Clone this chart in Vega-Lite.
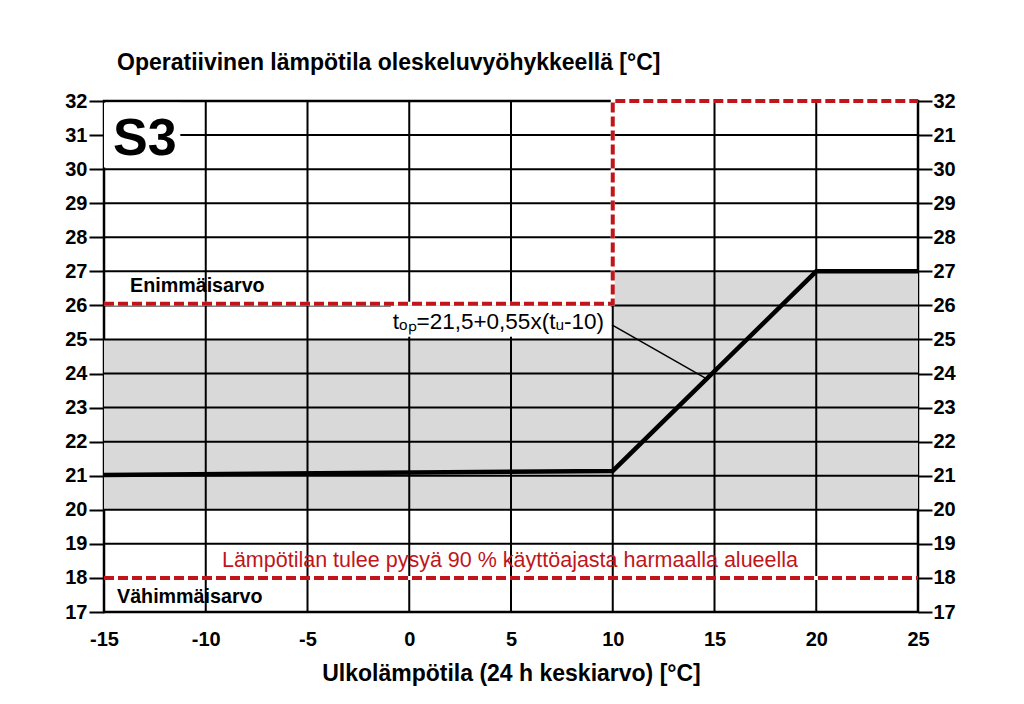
{
  "$schema": "https://vega.github.io/schema/vega-lite/v6.json",
  "width": 814,
  "height": 511,
  "autosize": "none",
  "padding": {"left": 104, "top": 101, "right": 106, "bottom": 92},
  "background": "white",
  "config": {
    "view": {"stroke": "black", "strokeWidth": 2.5},
    "font": "Liberation Sans"
  },
  "title": {
    "text": "Operatiivinen lämpötila oleskeluvyöhykkeellä [°C]",
    "anchor": "start",
    "frame": "group",
    "dx": 13,
    "offset": -2,
    "baseline": "alphabetic",
    "font": "Liberation Sans",
    "fontSize": 23,
    "fontWeight": "bold",
    "color": "black"
  },
  "datasets": {
    "grey": [
      {"x": -15, "x2": 10, "y": 20, "y2": 25},
      {"x": 10, "x2": 25, "y": 20, "y2": 27}
    ],
    "vgrid": [{"x": -10}, {"x": -5}, {"x": 0}, {"x": 5}, {"x": 10}, {"x": 15}, {"x": 20}],
    "hgrid": [{"y": 18}, {"y": 19}, {"y": 20}, {"y": 21}, {"y": 22}, {"y": 23}, {"y": 24}, {"y": 25}, {"y": 26}, {"y": 27}, {"y": 28}, {"y": 29}, {"y": 30}, {"y": 31}],
    "boxes": [
      {"x": -15, "x2": -11.25, "y": 30.05, "y2": 31.95},
      {"x": -0.9, "x2": 9.9, "y": 25.08, "y2": 26.0}
    ],
    "limits": [
      {"g": "max", "o": 1, "x": -15, "y": 26.05},
      {"g": "max", "o": 2, "x": 10, "y": 26.05},
      {"g": "max", "o": 3, "x": 10, "y": 32},
      {"g": "max", "o": 4, "x": 25, "y": 32},
      {"g": "min", "o": 1, "x": -15, "y": 18},
      {"g": "min", "o": 2, "x": 25, "y": 18}
    ],
    "main": [
      {"o": 1, "x": -15, "y": 21.02},
      {"o": 2, "x": 10, "y": 21.14},
      {"o": 3, "x": 20, "y": 27.0},
      {"o": 4, "x": 25, "y": 27.0}
    ],
    "leader": [{"x": 9.96, "y": 25.43, "x2": 14.53, "y2": 23.87}]
  },
  "resolve": {"axis": {"x": "independent", "y": "independent"}},
  "layer": [
    {
      "data": {"name": "grey"},
      "mark": {"type": "rect", "fill": "#d9d9d9"},
      "encoding": {
        "x": {"field": "x", "type": "quantitative",
          "scale": {"domain": [-15, 25], "nice": false, "zero": false},
          "axis": {"orient": "bottom", "values": [-15, -10, -5, 0, 5, 10, 15, 20, 25], "ticks": false, "domain": false, "grid": false,
            "labelExpr": "datum.value + ''", "labelFlush": false, "labelOverlap": false,
            "labelFont": "Liberation Sans", "labelFontSize": 20, "labelFontWeight": "bold", "labelColor": "black", "labelPadding": 17,
            "title": "Ulkolämpötila (24 h keskiarvo) [°C]", "titleFont": "Liberation Sans", "titleFontSize": 23, "titleFontWeight": "bold", "titleColor": "black", "titlePadding": 13}},
        "x2": {"field": "x2"},
        "y": {"field": "y", "type": "quantitative",
          "scale": {"domain": [17, 32], "nice": false, "zero": false},
          "axis": {"orient": "left", "values": [17, 18, 19, 20, 21, 22, 23, 24, 25, 26, 27, 28, 29, 30, 31, 32], "ticks": true, "tickSize": 15, "tickWidth": 2, "tickColor": "black", "domain": false, "grid": false,
            "labelFlush": false, "labelOverlap": false,
            "labelFont": "Liberation Sans", "labelFontSize": 20, "labelFontWeight": "bold", "labelColor": "black", "labelPadding": 2, "title": null}},
        "y2": {"field": "y2"}
      }
    },
    {
      "data": {"name": "vgrid"},
      "mark": {"type": "rule", "color": "black", "strokeWidth": 2},
      "encoding": {
        "x": {"field": "x", "type": "quantitative", "axis": null}
      }
    },
    {
      "data": {"name": "hgrid"},
      "mark": {"type": "rule", "color": "black", "strokeWidth": 2},
      "encoding": {
        "y": {"field": "y", "type": "quantitative",
          "axis": {"orient": "right", "values": [17, 18, 19, 20, 21, 22, 23, 24, 25, 26, 27, 28, 29, 30, 31, 32], "ticks": true, "tickSize": 14, "tickWidth": 2, "tickColor": "black", "domain": false, "grid": false,
            "labelExpr": "datum.value == 31 ? '21' : datum.label", "labelFlush": false, "labelOverlap": false,
            "labelFont": "Liberation Sans", "labelFontSize": 20, "labelFontWeight": "bold", "labelColor": "black", "labelPadding": 1, "title": null}}
      }
    },
    {
      "data": {"name": "boxes"},
      "mark": {"type": "rect", "fill": "white"},
      "encoding": {
        "x": {"field": "x", "type": "quantitative", "axis": null},
        "x2": {"field": "x2"},
        "y": {"field": "y", "type": "quantitative", "axis": null},
        "y2": {"field": "y2"}
      }
    },
    {
      "data": {"name": "limits"},
      "mark": {"type": "line", "color": "white", "strokeWidth": 4, "strokeCap": "butt"},
      "encoding": {
        "x": {"field": "x", "type": "quantitative", "axis": null},
        "y": {"field": "y", "type": "quantitative", "axis": null},
        "detail": {"field": "g"},
        "order": {"field": "o"}
      }
    },
    {
      "data": {"name": "limits"},
      "mark": {"type": "line", "color": "#c0161b", "strokeWidth": 4, "strokeDash": [10, 4], "strokeCap": "butt"},
      "encoding": {
        "x": {"field": "x", "type": "quantitative", "axis": null},
        "y": {"field": "y", "type": "quantitative", "axis": null},
        "detail": {"field": "g"},
        "order": {"field": "o"}
      }
    },
    {
      "data": {"name": "main"},
      "mark": {"type": "line", "color": "black", "strokeWidth": 4.5},
      "encoding": {
        "x": {"field": "x", "type": "quantitative", "axis": null},
        "y": {"field": "y", "type": "quantitative", "axis": null},
        "order": {"field": "o"}
      }
    },
    {
      "data": {"name": "leader"},
      "mark": {"type": "rule", "color": "black", "strokeWidth": 1.5},
      "encoding": {
        "x": {"field": "x", "type": "quantitative", "axis": null},
        "y": {"field": "y", "type": "quantitative", "axis": null},
        "x2": {"field": "x2"},
        "y2": {"field": "y2"}
      }
    },
    {
      "data": {"values": [{"x": -14.56, "y": 30.415, "t": "S3"}]},
      "mark": {"type": "text", "align": "left", "baseline": "alphabetic", "font": "Liberation Sans", "fontSize": 52, "fontWeight": "bold", "color": "black"},
      "encoding": {
        "x": {"field": "x", "type": "quantitative", "axis": null},
        "y": {"field": "y", "type": "quantitative", "axis": null},
        "text": {"field": "t"}
      }
    },
    {
      "data": {"values": [{"x": -13.72, "y": 26.39, "t": "Enimmäisarvo"}, {"x": -14.36, "y": 17.27, "t": "Vähimmäisarvo"}]},
      "mark": {"type": "text", "align": "left", "baseline": "alphabetic", "font": "Liberation Sans", "fontSize": 19.7, "fontWeight": "bold", "color": "black"},
      "encoding": {
        "x": {"field": "x", "type": "quantitative", "axis": null},
        "y": {"field": "y", "type": "quantitative", "axis": null},
        "text": {"field": "t"}
      }
    },
    {
      "data": {"values": [{"x": 4.95, "y": 18.32, "t": "Lämpötilan tulee pysyä 90 % käyttöajasta harmaalla alueella"}]},
      "mark": {"type": "text", "align": "center", "baseline": "alphabetic", "font": "Liberation Sans", "fontSize": 21.5, "color": "#c0161b"},
      "encoding": {
        "x": {"field": "x", "type": "quantitative", "axis": null},
        "y": {"field": "y", "type": "quantitative", "axis": null},
        "text": {"field": "t"}
      }
    },
    {
      "data": {"values": [{"x": 9.57, "y": 25.31, "t": "tₒₚ=21,5+0,55x(tᵤ-10)"}]},
      "mark": {"type": "text", "align": "right", "baseline": "alphabetic", "font": "Liberation Sans", "fontSize": 22.5, "color": "black"},
      "encoding": {
        "x": {"field": "x", "type": "quantitative", "axis": null},
        "y": {"field": "y", "type": "quantitative", "axis": null},
        "text": {"field": "t"}
      }
    }
  ]
}
